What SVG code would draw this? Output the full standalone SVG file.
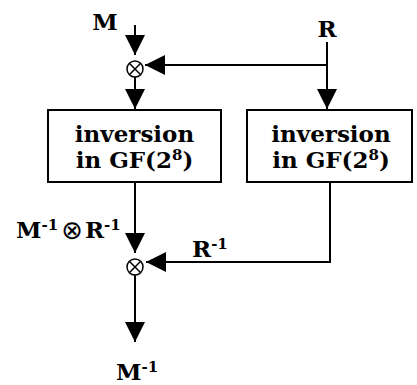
<svg xmlns="http://www.w3.org/2000/svg" width="417" height="385" viewBox="0 0 417 385">
<style>
.t{font-family:"DejaVu Serif","Liberation Serif",serif;font-weight:bold;font-size:23px;fill:#000}
.s{font-size:15px}
.o{font-family:"DejaVu Sans",sans-serif;font-weight:normal;font-size:26px}
.box{fill:#fff;stroke:#000;stroke-width:2}
.ln{fill:none;stroke:#000;stroke-width:2}
.op{fill:#fff;stroke:#000;stroke-width:1.5}
</style>
<defs>
<marker id="ah" markerUnits="userSpaceOnUse" markerWidth="20" markerHeight="20" refX="20" refY="10" orient="auto" viewBox="0 0 20 20">
<path d="M0,0 L20,10 L0,20 z" fill="#000"/>
</marker>
</defs>
<g id="connectors">
<line class="ln" x1="135" y1="25" x2="135" y2="55" marker-end="url(#ah)"/>
<line class="ln" x1="135" y1="77" x2="135" y2="109" marker-end="url(#ah)"/>
<line class="ln" x1="327" y1="42" x2="327" y2="109" marker-end="url(#ah)"/>
<polyline class="ln" points="327,65 145,65" marker-end="url(#ah)"/>
<line class="ln" x1="135" y1="182" x2="135" y2="253" marker-end="url(#ah)"/>
<polyline class="ln" points="330,182 330,262 146,262" marker-end="url(#ah)"/>
<line class="ln" x1="135" y1="275" x2="135" y2="342" marker-end="url(#ah)"/>
</g>
<g id="op1">
<circle class="op" cx="135" cy="69" r="8"/>
<path class="op" d="M129.3,63.3 L140.7,74.7 M140.7,63.3 L129.3,74.7"/>
</g>
<g id="op2">
<circle class="op" cx="135" cy="267" r="8"/>
<path class="op" d="M129.3,261.3 L140.7,272.7 M140.7,261.3 L129.3,272.7"/>
</g>
<g id="inv1">
<rect class="box" x="48" y="110" width="173" height="72"/>
<text class="t" x="134.5" y="142" text-anchor="middle">inversion</text>
<text class="t" x="134.5" y="168" text-anchor="middle">in GF(2<tspan class="s" dy="-8">8</tspan><tspan dy="8">)</tspan></text>
</g>
<g id="inv2">
<rect class="box" x="247" y="110" width="165" height="72"/>
<text class="t" x="331" y="142" text-anchor="middle">inversion</text>
<text class="t" x="331" y="168" text-anchor="middle">in GF(2<tspan class="s" dy="-8">8</tspan><tspan dy="8">)</tspan></text>
</g>
<g id="labels">
<text class="t" x="105" y="30" text-anchor="middle">M</text>
<text class="t" x="327" y="37" text-anchor="middle">R</text>
<text class="t" x="16" y="238">M<tspan class="s" dy="-8">-1</tspan><tspan class="o" dx="3" dy="9">⊗</tspan><tspan dx="2" dy="-1">R</tspan><tspan class="s" dy="-8">-1</tspan></text>
<text class="t" x="192" y="257">R<tspan class="s" dy="-8">-1</tspan></text>
<text class="t" x="116" y="380">M<tspan class="s" dy="-8">-1</tspan></text>
</g>
</svg>
